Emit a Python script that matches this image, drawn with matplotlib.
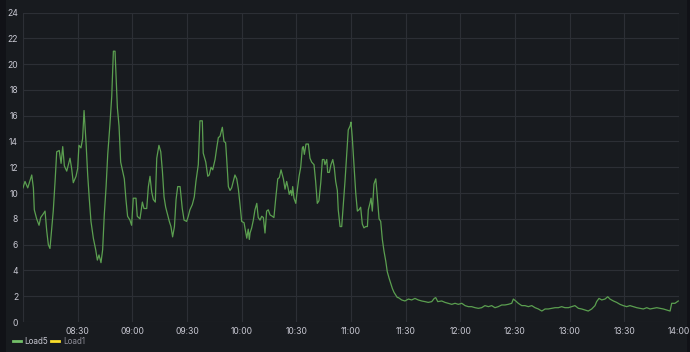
import numpy as np
import pandas as pd
import matplotlib
matplotlib.use("Agg")
import matplotlib.pyplot as plt
import matplotlib.dates as mdates
from matplotlib.patches import Rectangle

# minutes after 08:00 and Load5 value
minutes = [0, 1.1, 2.6, 4.8, 5.7, 6.2, 7.5, 8.8, 9.7, 11.2, 12.1, 13.0, 13.9, 14.8, 16.6, 17.6,
           18.5, 19.9, 20.9, 21.8, 22.7, 24.0, 25.8, 26.7, 27.6, 29.1, 30.0, 30.7, 31.8, 32.7,
           33.5, 34.6, 35.5, 36.4, 37.3, 38.6, 39.9, 40.8, 41.7, 42.8, 43.7, 44.6, 45.6, 46.5,
           47.7, 48.7, 49.6, 50.5, 51.0, 51.8, 52.7, 53.6, 54.7, 55.6, 56.5, 57.4, 58.7, 59.6,
           60.5, 62.0, 62.7, 64.2, 65.5, 66.4, 67.9, 68.8, 69.7, 70.6, 71.5, 72.6, 73.4, 74.6,
           75.6, 76.5, 77.4, 78.3, 79.4, 80.3, 81.2, 82.1, 83.1, 84.0, 84.9, 86.2, 87.4, 88.4,
           89.8, 90.7, 91.6, 92.9, 94.0,
           94.9, 96.2, 97.1, 98.4, 98.9, 100.3, 101.4, 102.2, 103.2, 104.1, 105.4, 106.3, 107.2,
           108.1, 109.4, 110.3, 111.2, 111.8, 112.7, 113.6, 114.5, 115.4, 116.3, 117.3, 118.2,
           119.1, 120.0, 121.3, 121.8, 122.8, 123.6, 124.2, 124.6, 125.5, 126.4, 127.3, 128.3,
           129.1, 130.1, 131.0, 131.9, 132.8, 133.7, 134.6, 135.6, 136.8, 137.7, 138.7, 139.8,
           140.7, 141.6, 142.9, 143.8, 144.7, 145.6,
           146.1, 146.9, 147.5, 148.0, 148.7, 149.7, 150.5, 151.5, 152.4, 153.3, 153.8, 154.4,
           155.3, 156.6, 157.5, 158.4, 159.7, 160.6, 161.5, 162.4, 163.4, 164.3, 165.2, 165.7,
           166.7, 167.2, 168.1, 169.0, 170.0, 170.8, 171.6, 172.5, 173.0, 174.0, 174.9, 175.8,
           176.7, 177.6, 178.5, 179.5, 180.0, 180.7, 181.6, 182.6, 183.5, 184.4, 185.3, 186.2,
           187.1, 188.1, 189.0, 189.5, 190.4, 191.0, 191.7, 192.6, 193.6, 194.4, 195.4, 196.3,
           197.2, 198.1, 199.1, 199.9, 200.9, 201.8, 202.7, 203.6, 204.5, 205.4,
           206.0, 207.8, 209.6, 211.5, 213.3, 215.1, 216.9, 218.8, 220.6, 222.4, 224.3, 225.7,
           226.5, 227.6, 229.8, 231.6, 233.4, 235.3, 237.1, 238.9, 240.8, 242.6, 244.4, 246.2,
           248.1, 249.9, 251.7, 253.5, 255.4, 257.2, 259.0, 260.8, 262.7, 264.5, 266.3, 268.2,
           269.1, 270.4, 271.8, 273.7, 275.5, 277.3, 279.2, 281.0, 282.8, 284.7, 286.5, 288.3,
           290.1, 292.0, 293.8, 295.6, 297.4, 299.3, 301.1, 302.9, 304.8, 306.6, 308.4, 310.2,
           312.1, 313.9, 314.8, 316.1, 317.6, 319.4, 320.9, 322.1, 324.0, 325.8, 327.6, 329.4,
           331.3, 333.1, 334.9, 336.8, 338.6, 340.4, 342.3, 344.1, 345.9, 347.8, 349.6, 351.4,
           353.3, 355.1, 356.0, 357.8, 359.6]
load5 = [10.4, 10.9, 10.4, 11.4, 10.4, 8.7, 8.0, 7.5, 8.1, 8.4, 8.6, 7.1, 6.0, 5.7, 8.6, 10.9,
         13.2, 13.3, 12.3, 13.6, 12.1, 11.7, 12.7, 11.9, 10.8, 11.3, 11.9, 13.7, 13.5, 14.2,
         16.4, 13.9, 11.4, 9.5, 7.8, 6.5, 5.6, 4.8, 5.2, 4.6, 5.6, 8.3, 10.5, 13.0,
         15.3, 17.5, 21.0, 21.0, 19.3, 16.6, 15.2, 12.4, 11.7, 11.1, 9.5, 8.2, 7.9, 7.5,
         9.6, 9.6, 8.2, 8.0, 9.3, 8.8, 8.8, 10.5, 11.3, 10.1, 9.5, 9.3, 12.7, 13.7,
         13.2, 11.7, 9.7, 8.9, 8.3, 7.8, 7.4, 6.6, 7.4, 9.5, 10.5, 10.5, 8.8, 7.9,
         7.8, 8.2, 8.7, 9.1, 9.7,
         10.9, 12.2, 15.6, 15.6, 13.1, 12.4, 11.3, 11.4, 12.0, 11.8, 12.6, 13.5, 14.3,
         14.4, 15.1, 14.0, 13.9, 12.6, 10.5, 10.2, 10.4, 10.9, 11.4, 11.1, 10.3,
         9.1, 7.8, 7.7, 7.3, 6.5, 7.2, 6.4, 6.9, 7.3, 7.9, 8.7, 9.2,
         8.1, 7.9, 8.2, 8.1, 6.9, 8.6, 8.7, 8.3, 8.2, 8.1, 9.6, 11.1,
         11.2, 11.8, 11.1, 10.3, 10.9, 10.3,
         9.9, 10.2, 9.8, 10.5, 9.6, 9.2, 10.2, 11.3, 12.0, 13.5, 13.6, 13.0,
         13.8, 13.8, 12.7, 12.4, 12.2, 10.9, 9.2, 9.4, 10.8, 12.6, 12.6, 12.2,
         12.6, 11.6, 11.6, 12.2, 12.6, 12.0, 10.9, 10.2, 8.7, 7.4, 7.4, 9.1,
         10.9, 12.9, 14.9, 15.2, 15.5, 14.3, 12.2, 10.0, 8.6, 8.7, 8.9, 7.6,
         7.3, 7.4, 7.4, 8.7, 9.2, 9.6, 8.6, 10.7, 11.1, 9.8, 8.0, 7.8,
         6.4, 5.5, 4.7, 3.9, 3.4, 3.0, 2.6, 2.3, 2.1, 1.9,
         1.89, 1.71, 1.63, 1.78, 1.71, 1.83, 1.71, 1.63, 1.58, 1.52, 1.58, 1.83,
         1.89, 1.58, 1.63, 1.52, 1.45, 1.37, 1.45, 1.37, 1.45, 1.27, 1.19, 1.19,
         1.11, 1.06, 1.11, 1.27, 1.19, 1.27, 1.11, 1.19, 1.32, 1.32, 1.37, 1.45,
         1.78, 1.63, 1.45, 1.27, 1.27, 1.19, 1.27, 1.11, 1.01, 0.85, 1.01, 1.01,
         1.06, 1.11, 1.11, 1.19, 1.11, 1.11, 1.19, 1.27, 1.06, 1.01, 0.93, 0.85,
         1.01, 1.27, 1.58, 1.83, 1.71, 1.78, 1.96, 1.78, 1.63, 1.52, 1.37, 1.27,
         1.19, 1.27, 1.19, 1.11, 1.06, 1.01, 1.11, 1.01, 1.06, 1.11, 1.06, 1.01,
         0.93, 0.85, 1.45, 1.45, 1.63]

start = pd.Timestamp("2023-01-01 08:00")
end = pd.Timestamp("2023-01-01 14:00")
times = start + pd.to_timedelta(minutes, unit="min")

bg = "#181b1f"
txt = "#c7c7d1"
fam = ["Inter", "DejaVu Sans"]

fig = plt.figure(figsize=(6.9, 3.52), dpi=100)
fig.patch.set_facecolor("#111217")
fig.patches.append(Rectangle((6 / 690, 0), 681 / 690, 1, transform=fig.transFigure,
                             facecolor=bg, edgecolor="none", zorder=-5))

ax = fig.add_axes([23 / 690, 30 / 352, 656 / 690, 309.5 / 352])
ax.set_zorder(2)
ax.set_facecolor(bg)
ax.plot(times, load5, color="#5b9f50", lw=0.9)

ax.set_xlim(start, end)
ax.set_ylim(0, 24)
ax.set_yticks(range(0, 25, 2))
ax.xaxis.set_major_locator(mdates.MinuteLocator(byminute=[0, 30]))
ax.xaxis.set_major_formatter(mdates.DateFormatter("%H:%M"))
ax.grid(True, color="#2c2f35", lw=0.8)
ax.set_axisbelow(True)
for s in ax.spines.values():
    s.set_visible(False)
ax.tick_params(length=0, colors=txt, labelsize=6.2, pad=3.5)
for lab in ax.get_xticklabels() + ax.get_yticklabels():
    lab.set_fontfamily(fam)
ax.get_xticklabels()[0].set_visible(False)

# legend
ly = 1 - 341 / 352
fig.text(24 / 690, ly, "Load5", color=txt, fontsize=5.8, va="center", family=fam)
fig.text(63 / 690, ly, "Load1", color="#8e8e98", fontsize=5.8, va="center", family=fam)
fig.lines.append(plt.Line2D([13 / 690, 21 / 690], [ly, ly], transform=fig.transFigure,
                            color="#73bf69", lw=2))
fig.lines.append(plt.Line2D([51 / 690, 59 / 690], [ly, ly], transform=fig.transFigure,
                            color="#fade2a", lw=2))

fig.savefig("out.png", dpi=100, facecolor=fig.get_facecolor())
